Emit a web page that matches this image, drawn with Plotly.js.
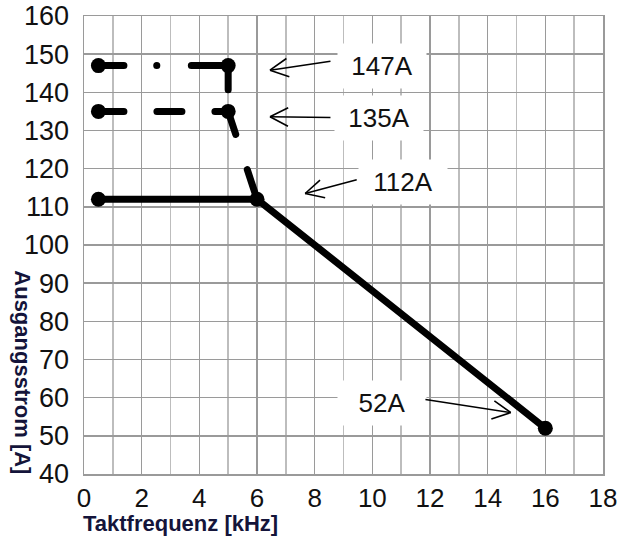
<!DOCTYPE html>
<html>
<head>
<meta charset="utf-8">
<script src="https://cdn.plot.ly/plotly-3.0.1.min.js"></script>
<style>
  html, body { margin: 0; padding: 0; background: #fff; }
  #chart { width: 625px; height: 539px; }
  .js-line { stroke-linecap: round !important; }
</style>
</head>
<body>
<div id="chart"></div>
<script>
// Data
const freq147 = [0.5, 5, 5];
const amp147  = [147, 147, 135];
const freq135 = [0.5, 5, 6];
const amp135  = [135, 135, 112];
const freq112 = [0.5, 6, 16];
const amp112  = [112, 112, 52];
const labelValues = [147, 135, 112, 52];
const xTitle = 'Taktfrequenz [kHz]';
const yTitle = 'Ausgangsstrom [A]';

const lineW = 7;
const mk = (sizes) => ({ color: '#000', size: sizes, opacity: 1, line: { width: 0 } });
const trace147 = {
  x: freq147, y: amp147, mode: 'lines+markers', type: 'scatter',
  line: { color: '#000', width: lineW, dash: '25.5px,32.8px,0.1px,34.5px,61px,200px' },
  marker: mk([15, 15, 0]), hoverinfo: 'skip'
};
const trace135 = {
  x: freq135, y: amp135, mode: 'lines+markers', type: 'scatter',
  line: { color: '#000', width: lineW, dash: '25.5px,33px,25px,33px,37.5px,37px,300px' },
  marker: mk([15, 15, 0]), hoverinfo: 'skip'
};
const trace112 = {
  x: freq112, y: amp112, mode: 'lines+markers', type: 'scatter',
  line: { color: '#000', width: lineW },
  marker: mk(15), hoverinfo: 'skip'
};

const fam = 'Liberation Sans, Arial, sans-serif';
const yTickFont = { family: fam, size: 27, color: '#111' };
const xTickFont = { family: fam, size: 26, color: '#111' };
const titleFont = { family: fam, size: 22, color: '#14143a' };

// plot geometry (for arrowhead arm directions)
const mL = 84, mR = 22, mT = 16, mB = 65, W = 625, H = 539;
const xRange = [0, 18], yRange = [40, 160];
const pxPerX = (W - mL - mR) / (xRange[1] - xRange[0]);
const pxPerY = (H - mT - mB) / (yRange[1] - yRange[0]);

// label boxes (text center) and arrows (tail -> head), in data units
const labelPos = [[10.34, 147.0], [10.23, 133.2], [11.05, 116.6], [10.34, 58.5]];
const arrows = [
  { tail: [8.6, 148.2], head: [6.45, 145.8] },
  { tail: [8.6, 133.4], head: [6.45, 133.6] },
  { tail: [9.51, 117.2], head: [7.67, 113.5] },
  { tail: [11.79, 59.6], head: [14.8, 56.1] }
];

const annotations = [];
labelValues.forEach((v, i) => {
  annotations.push({
    x: labelPos[i][0], y: labelPos[i][1], xref: 'x', yref: 'y',
    text: v + 'A', showarrow: false,
    font: { family: fam, size: 26, color: '#111' },
    bgcolor: '#fff', width: 88, height: 44, borderpad: 0,
    xanchor: 'center', yanchor: 'middle'
  });
  const a = arrows[i];
  annotations.push({
    x: a.head[0], y: a.head[1], xref: 'x', yref: 'y',
    ax: a.tail[0], ay: a.tail[1], axref: 'x', ayref: 'y',
    text: '', showarrow: true, arrowhead: 0, arrowwidth: 1.6, arrowcolor: '#000'
  });
  // open V arrowhead arms
  const dx = (a.tail[0] - a.head[0]) * pxPerX;
  const dy = -(a.tail[1] - a.head[1]) * pxPerY;
  const len = Math.hypot(dx, dy);
  const ux = dx / len, uy = dy / len;
  const armLen = 22, ang = 27 * Math.PI / 180;
  [ang, -ang].forEach(t => {
    const rx = ux * Math.cos(t) - uy * Math.sin(t);
    const ry = ux * Math.sin(t) + uy * Math.cos(t);
    annotations.push({
      x: a.head[0], y: a.head[1], xref: 'x', yref: 'y',
      ax: rx * armLen, ay: ry * armLen,
      text: '', showarrow: true, arrowhead: 0, arrowwidth: 1.6, arrowcolor: '#000'
    });
  });
});
annotations.push({
  xref: 'paper', yref: 'paper', x: 0.186, y: -0.109,
  xanchor: 'center', yanchor: 'middle', showarrow: false,
  text: '<b>' + xTitle + '</b>', font: titleFont
});
annotations.push({
  xref: 'paper', yref: 'paper', x: -0.1175, y: 0.222,
  xanchor: 'center', yanchor: 'middle', showarrow: false, textangle: 90,
  text: '<b>' + yTitle + '</b>', font: titleFont
});

const layout = {
  width: W, height: H,
  margin: { l: mL, r: mR, t: mT, b: mB },
  paper_bgcolor: '#fff', plot_bgcolor: '#fff',
  showlegend: false,
  xaxis: {
    range: xRange, dtick: 2, tick0: 0,
    showgrid: true, gridcolor: '#9a9a9a', gridwidth: 1.5,
    minor: { dtick: 1, showgrid: true, gridcolor: '#bdbdbd', gridwidth: 1.5 },
    zeroline: false, showline: true, mirror: true, linecolor: '#9a9a9a', linewidth: 1.5,
    ticks: '', tickfont: xTickFont, ticklabelstandoff: 0, fixedrange: true
  },
  yaxis: {
    range: yRange, dtick: 10, tick0: 40,
    showgrid: true, gridcolor: '#9a9a9a', gridwidth: 1.5,
    zeroline: false, showline: true, mirror: true, linecolor: '#9a9a9a', linewidth: 1.5,
    ticks: '', tickfont: yTickFont, ticklabelstandoff: 8, fixedrange: true
  },
  annotations: annotations
};

Plotly.newPlot('chart', [trace147, trace135, trace112], layout, { staticPlot: true });
</script>
</body>
</html>
